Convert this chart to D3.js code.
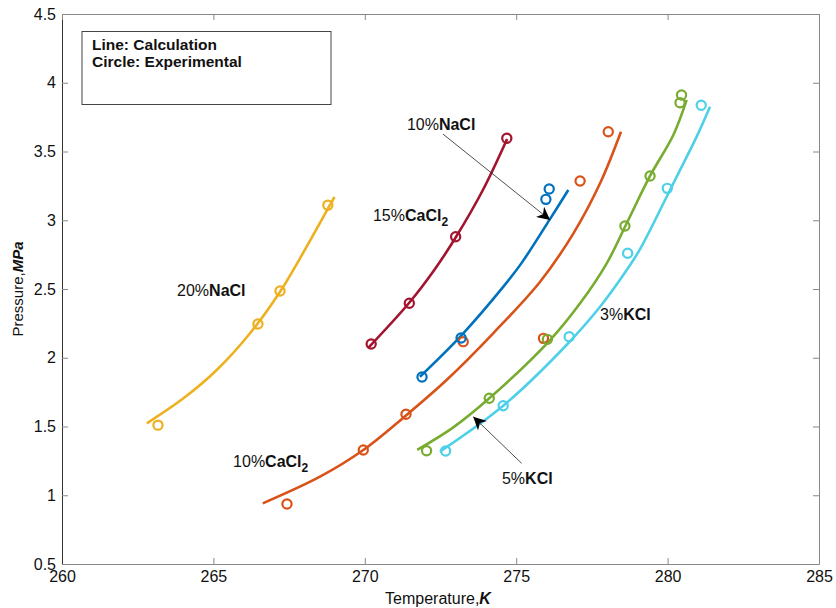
<!DOCTYPE html>
<html>
<head>
<meta charset="utf-8">
<script src="https://cdn.jsdelivr.net/npm/d3@7"></script>
<style>
  body { margin: 0; background: #fff; }
  text { font-family: "Liberation Sans", Arial, sans-serif; }
</style>
</head>
<body>
<svg id="chart"></svg>
<script>
const W = 836, H = 608;
const M = { left: 62, right: 17, top: 14, bottom: 44 };

const xTicks = [260, 265, 270, 275, 280, 285];
const yTicks = [0.5, 1, 1.5, 2, 2.5, 3, 3.5, 4, 4.5];

// series: calculated curves [T, P] and experimental points [T, P]
const nacl20Line = [[262.80, 1.523], [264.01, 1.705], [265.11, 1.911], [266.21, 2.178], [267.20, 2.480], [268.08, 2.808], [268.85, 3.111], [269.00, 3.17]];
const nacl20Pts = [[263.17, 1.51], [266.47, 2.245], [267.20, 2.485], [268.78, 3.11]];

const cacl15Line = [[270.11, 2.071], [271.46, 2.398], [272.30, 2.64], [273.01, 2.878], [273.90, 3.22], [274.70, 3.591]];
const cacl15Pts = [[270.21, 2.10], [271.47, 2.396], [273.00, 2.88], [274.69, 3.596]];

const nacl10Line = [[271.82, 1.862], [273.20, 2.165], [274.57, 2.515], [275.18, 2.69], [276.12, 3.010], [276.72, 3.22]];
const nacl10Pts = [[271.89, 1.86], [273.18, 2.144], [275.98, 3.152], [276.09, 3.227]];

const cacl10Line = [[266.63, 0.941], [268.52, 1.135], [269.95, 1.329], [271.38, 1.584], [272.70, 1.838], [274.24, 2.178], [275.79, 2.553], [276.89, 2.905], [277.77, 3.269], [278.46, 3.644]];
const cacl10Pts = [[267.43, 0.936], [269.95, 1.329], [271.36, 1.589], [273.25, 2.117], [275.90, 2.141], [277.11, 3.285], [278.04, 3.644]];

const kcl3Line = [[271.73, 1.33], [272.90, 1.49], [274.11, 1.705], [276.12, 2.129], [277.11, 2.396], [277.99, 2.687], [278.65, 2.978], [279.42, 3.322], [280.19, 3.620], [280.63, 3.875]];
const kcl3Pts = [[272.04, 1.324], [274.11, 1.705], [276.03, 2.134], [278.59, 2.958], [279.42, 3.322], [280.41, 3.855], [280.46, 3.911]];

const kcl5Line = [[272.48, 1.317], [274.57, 1.651], [276.56, 2.069], [277.77, 2.371], [278.65, 2.638], [279.09, 2.79], [279.97, 3.171], [280.41, 3.365], [280.96, 3.608], [281.40, 3.826]];
const kcl5Pts = [[272.67, 1.322], [274.57, 1.651], [276.75, 2.153], [278.68, 2.76], [279.99, 3.232], [281.11, 3.836]];

const series = [
  { name: '20%NaCl', color: '#EDB120', line: nacl20Line, pts: nacl20Pts },
  { name: '10%CaCl2', color: '#D95319', line: cacl10Line, pts: cacl10Pts },
  { name: '15%CaCl2', color: '#A2142F', line: cacl15Line, pts: cacl15Pts },
  { name: '10%NaCl', color: '#0072BD', line: nacl10Line, pts: nacl10Pts },
  { name: '3%KCl', color: '#77AC30', line: kcl3Line, pts: kcl3Pts },
  { name: '5%KCl', color: '#4DD0E8', line: kcl5Line, pts: kcl5Pts },
];

// text annotations: [normal part, bold part, subscript, T, P] (left / baseline)
const labels = [
  ['20%', 'NaCl', '', 263.80, 2.449],
  ['15%', 'CaCl', '2', 270.27, 2.995],
  ['10%', 'NaCl', '', 271.39, 3.656],
  ['10%', 'CaCl', '2', 265.65, 1.205],
  ['3%', 'KCl', '', 277.77, 2.275],
  ['5%', 'KCl', '', 274.53, 1.08],
];
// arrows: [T0, P0, T1, P1]
const arrows = [
  [272.58, 3.627, 276.12, 3.002],
  [275.18, 1.232, 273.58, 1.571],
];

const svg = d3.select('#chart').attr('width', W).attr('height', H);
const pw = W - M.left - M.right, ph = H - M.top - M.bottom;

const x = d3.scaleLinear().domain([260, 285]).range([M.left, M.left + pw]);
const y = d3.scaleLinear().domain([0.5, 4.5]).range([M.top + ph, M.top]);

// axes (MATLAB-like box, ticks inside)
const axCol = '#888';
const gx = svg.append('g').attr('transform', `translate(0,${M.top + ph})`)
  .call(d3.axisBottom(x).tickValues(xTicks).tickSizeInner(-6).tickSizeOuter(0).tickPadding(6));
const gy = svg.append('g').attr('transform', `translate(${M.left},0)`)
  .call(d3.axisLeft(y).tickValues(yTicks).tickFormat(d3.format('')).tickSizeInner(-6).tickSizeOuter(0).tickPadding(6));
const gt = svg.append('g').attr('transform', `translate(0,${M.top})`)
  .call(d3.axisTop(x).tickValues(xTicks).tickSizeInner(-6).tickSizeOuter(0).tickFormat(''));
const gr = svg.append('g').attr('transform', `translate(${M.left + pw},0)`)
  .call(d3.axisRight(y).tickValues(yTicks).tickSizeInner(-6).tickSizeOuter(0).tickFormat(''));
[gx, gy, gt, gr].forEach(g => {
  g.selectAll('.domain').attr('stroke', axCol);
  g.selectAll('.tick line').attr('stroke', axCol);
  g.selectAll('text').attr('font-size', 16).attr('fill', '#111')
    .attr('font-family', '"Liberation Sans", Arial, sans-serif');
});
gy.select('.domain').attr('stroke', '#333');
gx.selectAll('.tick text').attr('dy', '0.75em');

// axis titles
const xt = svg.append('text').attr('x', 438).attr('y', H - 4)
  .attr('text-anchor', 'middle').attr('font-size', 16).attr('fill', '#111');
xt.append('tspan').text('Temperature,');
xt.append('tspan').attr('font-weight', 'bold').attr('font-style', 'italic').text('K');

const yt = svg.append('text').attr('transform', 'translate(23,289) rotate(-90)')
  .attr('text-anchor', 'middle').attr('font-size', 15).attr('fill', '#111');
yt.append('tspan').text('Pressure,');
yt.append('tspan').attr('font-weight', 'bold').attr('font-style', 'italic').text('MPa');

// legend box
svg.append('rect').attr('x', 82).attr('y', 31.5).attr('width', 249).attr('height', 73)
  .attr('fill', '#fff').attr('stroke', '#444').attr('stroke-width', 1);
svg.append('text').attr('x', 92).attr('y', 50).attr('font-size', 15.5).attr('font-weight', 'bold')
  .attr('fill', '#111').text('Line: Calculation');
svg.append('text').attr('x', 92).attr('y', 67).attr('font-size', 15.5).attr('font-weight', 'bold')
  .attr('fill', '#111').text('Circle: Experimental');

// curves
const line = d3.line().x(d => x(d[0])).y(d => y(d[1])).curve(d3.curveCatmullRom.alpha(0.5));
const plot = svg.append('g');
series.forEach(s => {
  plot.append('path').datum(s.line).attr('d', line)
    .attr('fill', 'none').attr('stroke', s.color).attr('stroke-width', 2.6);
});
series.forEach(s => {
  plot.selectAll(null).data(s.pts).enter().append('circle')
    .attr('cx', d => x(d[0])).attr('cy', d => y(d[1])).attr('r', 4.6)
    .attr('fill', 'none').attr('stroke', s.color).attr('stroke-width', 2.2);
});

// annotation labels
labels.forEach(l => {
  const t = svg.append('text').attr('x', x(l[3])).attr('y', y(l[4]))
    .attr('font-size', 16).attr('fill', '#111');
  t.append('tspan').text(l[0]);
  t.append('tspan').attr('font-weight', 'bold').text(l[1]);
  if (l[2]) t.append('tspan').attr('font-weight', 'bold').attr('font-size', 12).attr('dy', 5).text(l[2]);
});

// arrows
svg.append('defs').append('marker').attr('id', 'ah')
  .attr('viewBox', '0 0 10 10').attr('refX', 10).attr('refY', 5)
  .attr('markerWidth', 15).attr('markerHeight', 13).attr('markerUnits', 'userSpaceOnUse')
  .attr('orient', 'auto')
  .append('path').attr('d', 'M0,0 L10,5 L0,10 L3,5 Z').attr('fill', '#000');
arrows.forEach(a => {
  svg.append('line').attr('x1', x(a[0])).attr('y1', y(a[1])).attr('x2', x(a[2])).attr('y2', y(a[3]))
    .attr('stroke', '#222').attr('stroke-width', 0.8).attr('marker-end', 'url(#ah)');
});
</script>
</body>
</html>
